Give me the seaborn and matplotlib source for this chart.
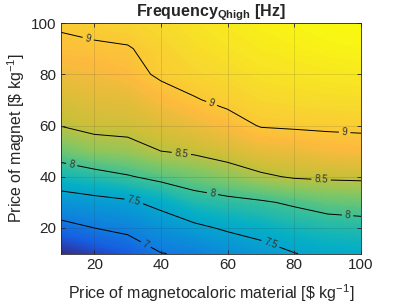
import numpy as np
import matplotlib
matplotlib.use("Agg")
import matplotlib.pyplot as plt
import seaborn as sns

# price of magnetocaloric material (x) and price of magnet (y), $/kg
x_price = [10, 20, 30, 40, 50, 60, 70, 80, 90, 100]
y_price = [10, 20, 30, 40, 50, 60, 70, 80, 90, 100]

# frequency [Hz], one row per magnet price (y)
freq = [
    [6.45, 6.60, 6.75, 6.99, 7.05, 7.21, 7.35, 7.49, 7.58, 7.62],
    [6.87, 7.00, 7.09, 7.27, 7.42, 7.55, 7.64, 7.76, 7.82, 7.85],
    [7.29, 7.37, 7.44, 7.61, 7.82, 7.90, 7.96, 8.05, 8.15, 8.18],
    [7.76, 7.86, 7.97, 8.10, 8.21, 8.32, 8.45, 8.53, 8.55, 8.56],
    [8.19, 8.33, 8.38, 8.50, 8.55, 8.64, 8.74, 8.77, 8.84, 8.86],
    [8.51, 8.59, 8.60, 8.68, 8.77, 8.88, 9.02, 9.04, 9.05, 9.06],
    [8.65, 8.71, 8.73, 8.86, 8.98, 9.07, 9.14, 9.17, 9.19, 9.20],
    [8.79, 8.83, 8.89, 9.05, 9.12, 9.17, 9.24, 9.27, 9.30, 9.32],
    [8.93, 8.96, 8.98, 9.10, 9.20, 9.26, 9.32, 9.36, 9.40, 9.42],
    [9.04, 9.08, 9.12, 9.18, 9.26, 9.33, 9.39, 9.43, 9.47, 9.50],
]

line_levels = [7, 7.5, 8, 8.5, 9]
label_spots = [(18, 93), (55, 68), (95, 55), (46, 48), (88, 38.3),
               (13, 43.5), (55.5, 34), (96, 25.7), (32, 31.3), (73, 14.5),
               (35.6, 14)]

sns.set_style("ticks")
plt.rcParams['font.family'] = ['Liberation Sans', 'DejaVu Sans']
plt.rcParams['mathtext.fontset'] = 'custom'
plt.rcParams['mathtext.rm'] = 'Liberation Sans'
plt.rcParams['mathtext.bf'] = 'Liberation Sans:bold'

# parula-like colour map
parula = sns.blend_palette([
    (0.2081, 0.1663, 0.5292), (0.09, 0.36, 0.88), (0.06, 0.50, 0.87),
    (0.03, 0.60, 0.83), (0.02, 0.69, 0.77), (0.22, 0.75, 0.60),
    (0.50, 0.78, 0.40), (0.80, 0.75, 0.22), (0.99, 0.73, 0.24),
    (0.97, 0.86, 0.17), (0.976, 0.983, 0.054)], n_colors=256, as_cmap=True)

X, Y = np.meshgrid(x_price, y_price)
Z = np.array(freq)

fig = plt.figure(figsize=(4.07, 3.05), dpi=100)
ax = fig.add_axes([0.150, 0.1685, 0.737, 0.756])

ax.contourf(X, Y, Z, levels=np.linspace(Z.min(), Z.max(), 120), cmap=parula)
cs = ax.contour(X, Y, Z, levels=line_levels, colors='black', linewidths=0.7)
ax.clabel(cs, fmt='%g', fontsize=7, inline=True, inline_spacing=3,
          manual=label_spots, colors='0.2')

ax.set_xlim(10, 100)
ax.set_ylim(10, 100)
ax.set_xticks([20, 40, 60, 80, 100])
ax.set_yticks([20, 40, 60, 80, 100])
ax.grid(True, color='0.15', alpha=0.15, linewidth=0.6)
ax.set_axisbelow(False)
ax.tick_params(direction='in', top=True, right=True, labelsize=11,
               colors='0.15', length=3, width=0.6)
for s in ax.spines.values():
    s.set_color('0.15')
    s.set_linewidth(0.6)

ax.set_xlabel(r'Price of magnetocaloric material [\$ kg$^{\mathrm{-1}}$]',
              fontsize=11.5, color='0.15', labelpad=7)
ax.set_ylabel(r'Price of magnet [\$ kg$^{\mathrm{-1}}$]', fontsize=11.5,
              color='0.15', labelpad=3)
ax.set_title(r'Frequency$_{\mathbf{Qhigh}}$ [Hz]', fontsize=11.5,
             fontweight='bold', pad=5)

fig.savefig('out.png', dpi=100)
